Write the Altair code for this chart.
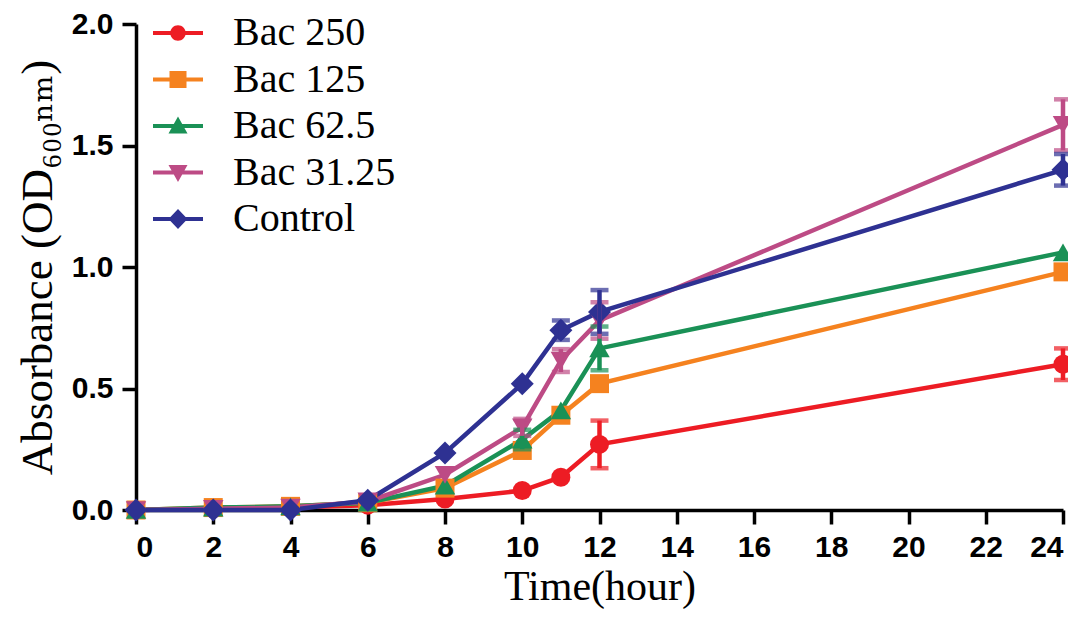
import altair as alt
import pandas as pd

# ---- data ----
time = [0, 2, 4, 6, 8, 10, 11, 12, 24]

series_names = ["Bac 250", "Bac 125", "Bac 62.5", "Bac 31.25", "Control"]

bac250 = [0.000, 0.005, 0.010, 0.020, 0.045, 0.080, 0.135, 0.270, 0.600]
bac250_err = [0, 0, 0, 0, 0, 0, 0, 0.098, 0.065]

bac125 = [0.000, 0.010, 0.015, 0.030, 0.090, 0.245, 0.390, 0.520, 0.980]
bac125_err = [0, 0, 0, 0, 0, 0, 0, 0, 0]

bac62_5 = [0.000, 0.010, 0.015, 0.030, 0.100, 0.290, 0.410, 0.665, 1.060]
bac62_5_err = [0, 0, 0, 0, 0, 0.040, 0, 0.090, 0]

bac31_25 = [0.000, 0.005, 0.010, 0.035, 0.145, 0.340, 0.615, 0.780, 1.585]
bac31_25_err = [0, 0, 0, 0, 0, 0.035, 0.047, 0.075, 0.105]

control = [0.000, 0.000, 0.000, 0.040, 0.235, 0.520, 0.740, 0.815, 1.400]
control_err = [0, 0, 0, 0, 0, 0, 0.040, 0.090, 0.065]

colors = ["#ED1C24", "#F5821F", "#1A9156", "#BD4B85", "#2E3192"]
marker_shapes = ["circle", "square", "triangle-up", "triangle-down", "diamond"]
marker_sizes = [361, 361, 420, 420, 529]

# legend symbols: line segment + marker (custom SVG paths, unit = sqrt(size)/2 px)
bar = "M-1,-0.08H1V0.08H-1Z "
legend_paths = [
    bar + "M0.31,0A0.31,0.31 0 1,1 -0.31,0A0.31,0.31 0 1,1 0.31,0Z",
    bar + "M-0.34,-0.34H0.34V0.34H-0.34Z",
    bar + "M0,-0.38L0.38,0.3H-0.38Z",
    bar + "M-0.38,-0.3H0.38L0,0.38Z",
    bar + "M0,-0.4L0.38,0L0,0.4L-0.38,0Z",
]

values = [bac250, bac125, bac62_5, bac31_25, control]
errors = [bac250_err, bac125_err, bac62_5_err, bac31_25_err, control_err]

rows = []
for name, vals, errs in zip(series_names, values, errors):
    for t, v, e in zip(time, vals, errs):
        rows.append({"series": name, "time": t, "od": v,
                     "err": e, "lo": v - e, "hi": v + e})
df = pd.DataFrame(rows)

legend_spec = alt.Legend(
    title=None, orient="none", legendX=17, legendY=-16, padding=0,
    labelFont="Liberation Serif", labelFontSize=40, labelColor="black",
    labelOffset=30, labelLimit=400, labelBaseline="middle",
    symbolSize=2500, symbolStrokeWidth=0, symbolOpacity=1, rowPadding=1.5,
)

YTITLE = "Absorbance (OD₆₀₀ₙₘ)"
x_enc = alt.X("time:Q", scale=alt.Scale(domain=[0, 24], nice=False, zero=False),
              axis=alt.Axis(values=list(range(0, 25, 2)), title="Time(hour)",
                            labelPadding=8, titlePadding=4))
y_enc = alt.Y("od:Q", scale=alt.Scale(domain=[0, 2], nice=False),
              axis=alt.Axis(values=[0, 0.5, 1.0, 1.5, 2.0], format=".1f",
                            title=YTITLE, labelPadding=9, titlePadding=11,
                            titleFontSize=45))
color_scale = alt.Scale(domain=series_names, range=colors)
color_nolegend = alt.Color("series:N", scale=color_scale, legend=None)

base = alt.Chart(df)

legend_layer = base.mark_point(filled=True, opacity=0, size=2500).encode(
    x=x_enc, y=y_enc,
    color=alt.Color("series:N", scale=color_scale, legend=legend_spec),
    shape=alt.Shape("series:N", scale=alt.Scale(domain=series_names, range=legend_paths),
                    legend=legend_spec))

lines = base.mark_line(strokeWidth=4.5).encode(
    x=x_enc, y=y_enc, color=color_nolegend,
    order=alt.Order("time:Q"))

point_layers = []
for name, shp, sz in zip(series_names, marker_shapes, marker_sizes):
    point_layers.append(
        base.transform_filter(alt.datum.series == name)
        .mark_point(filled=True, opacity=1, shape=shp, size=sz)
        .encode(x=x_enc, y=y_enc, color=color_nolegend)
    )

errbars = base.transform_filter("datum.err > 0").mark_errorbar(
    ticks={"size": 18, "thickness": 4.5}, rule={"strokeWidth": 4.5}).encode(
    x=x_enc,
    y=alt.Y("lo:Q", scale=alt.Scale(domain=[0, 2], nice=False), title=YTITLE),
    y2="hi:Q",
    color=color_nolegend)

chart = alt.layer(legend_layer, lines, *point_layers, errbars).properties(
    width=927, height=486,
    autosize=alt.AutoSizeParams(type="none"),
    padding={"left": 128, "top": 16, "right": 5, "bottom": 100},
).configure_view(stroke=None).configure_axis(
    grid=False, domainColor="black", domainWidth=3.5, tickColor="black",
    tickWidth=3.5, tickSize=14,
    labelFont="Liberation Sans", labelFontWeight="bold", labelFontSize=30,
    labelColor="black",
    titleFont="Liberation Serif, DejaVu Serif", titleFontWeight="normal",
    titleFontSize=42, titleColor="black",
)

chart.save("out.html", embed_options={"renderer": "svg", "actions": False})
